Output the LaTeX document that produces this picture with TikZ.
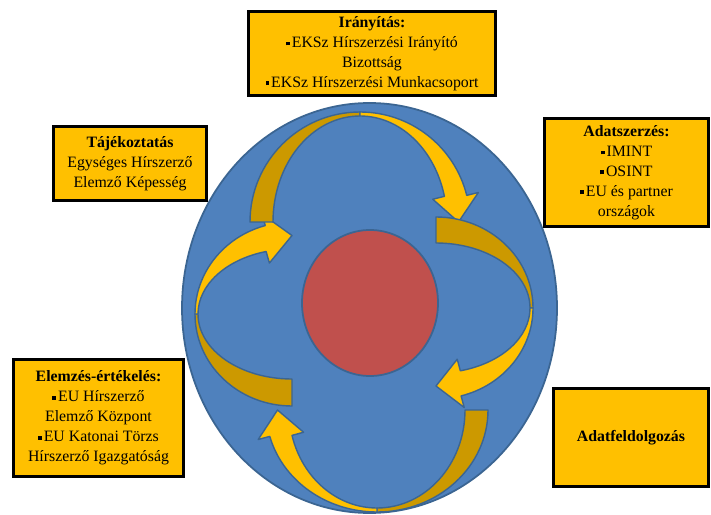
\documentclass[tikz,border=0pt]{standalone}
\usepackage{fontspec}
\setmainfont{Liberation Serif}
\definecolor{boxgold}{HTML}{FFC000}
\definecolor{backgold}{HTML}{CC9900}
\definecolor{discblue}{HTML}{4F81BD}
\definecolor{rimblue}{HTML}{3B6592}
\definecolor{corered}{HTML}{C0504D}

% small square bullet
\newcommand\sqb{\raisebox{0.28ex}{\rule{0.24em}{0.24em}}\hspace{0.12em}}

% curved arrow around the current origin:
% #1,#2 outer radii; #3,#4 inner radii; #5 tail angle; #6 apex angle;
% #7 angle where the head starts; #8 angle of the tip
\newcommand\ringarrow[8]{%
  \filldraw[backband]
    ({#1*cos(#5)},{#2*sin(#5)})
    arc[start angle=#5, end angle=#6, x radius=#1, y radius=#2]
    -- ({#3*cos(#6)},{#4*sin(#6)})
    arc[start angle=#6, end angle=#5, x radius=#3, y radius=#4]
    -- cycle;
  \filldraw[frontband]
    ({#1*cos(#6)},{#2*sin(#6)})
    arc[start angle=#6, end angle=#7, x radius=#1, y radius=#2]
    -- ({(#1+12)*cos(#7)},{(#2+12)*sin(#7)})
    -- ({(#1+#3)/2*cos(#8)},{(#2+#4)/2*sin(#8)})
    -- ({(#3-12)*cos(#7)},{(#4-12)*sin(#7)})
    -- ({#3*cos(#7)},{#4*sin(#7)})
    arc[start angle=#7, end angle=#6, x radius=#3, y radius=#4]
    -- cycle;
}

\begin{document}
\begin{tikzpicture}[x=0.03cm, y=-0.03cm,
  backband/.style={fill=backgold, draw=rimblue, line width=1.2pt, line join=round},
  frontband/.style={fill=boxgold, draw=rimblue, line width=1.2pt, line join=round},
  infobox/.style={draw=black, line width=2.2pt, fill=boxgold, align=center,
    inner sep=0pt, font=\fontsize{13.5}{17}\selectfont}]
\useasboundingbox (0,0) rectangle (711,515);

% disc and core
\filldraw[fill=discblue, draw=rimblue, line width=1.5pt]
  (369.5,308) ellipse [x radius=187.5, y radius=205];
\filldraw[fill=corered, draw=rimblue, line width=1.5pt]
  (370,303) ellipse [x radius=68, y radius=73];

% four cycle arrows
\begin{scope}[shift={(292,314)}]
  \ringarrow{97}{92}{94}{65}{90}{180}{254}{270}
\end{scope}
\begin{scope}[shift={(360,222)}]
  \ringarrow{110}{110}{87}{106}{180}{270}{346}{360}
\end{scope}
\begin{scope}[shift={(436,308)}]
  \ringarrow{97}{91}{94}{65}{270}{360}{435}{450}
\end{scope}
\begin{scope}[shift={(377,410)}]
  \ringarrow{111}{102}{88}{98}{0}{90}{165}{180}
\end{scope}

% stage boxes
\node[infobox, minimum width=7.42cm, minimum height=2.53cm] (iranyitas) at (372,53.5)
  {\textbf{Irányítás:}\\ \sqb EKSz Hírszerzési Irányító\\ Bizottság\\ \sqb EKSz Hírszerzési Munkacsoport};
\node[infobox, minimum width=4.6cm, minimum height=2.23cm] (tajekoztatas) at (130,163.5)
  {\textbf{Tájékoztatás}\\ Egységes Hírszerző\\ Elemző Képesség};
\node[infobox, minimum width=4.93cm, minimum height=3.25cm] (adatszerzes) at (626.5,172.5)
  {\textbf{Adatszerzés:}\\ \sqb IMINT\\ \sqb OSINT\\ \sqb EU és partner\\ országok};
\node[infobox, minimum width=5.11cm, minimum height=3.52cm] (elemzes) at (98.5,418)
  {\textbf{Elemzés-értékelés:}\\ \sqb EU Hírszerző\\ Elemző Központ\\ \sqb EU Katonai Törzs\\ Hírszerző Igazgatóság};
\node[infobox, minimum width=4.66cm, minimum height=2.95cm] (adatfeldolgozas) at (631,437.5)
  {\textbf{Adatfeldolgozás}};
\end{tikzpicture}
\end{document}
